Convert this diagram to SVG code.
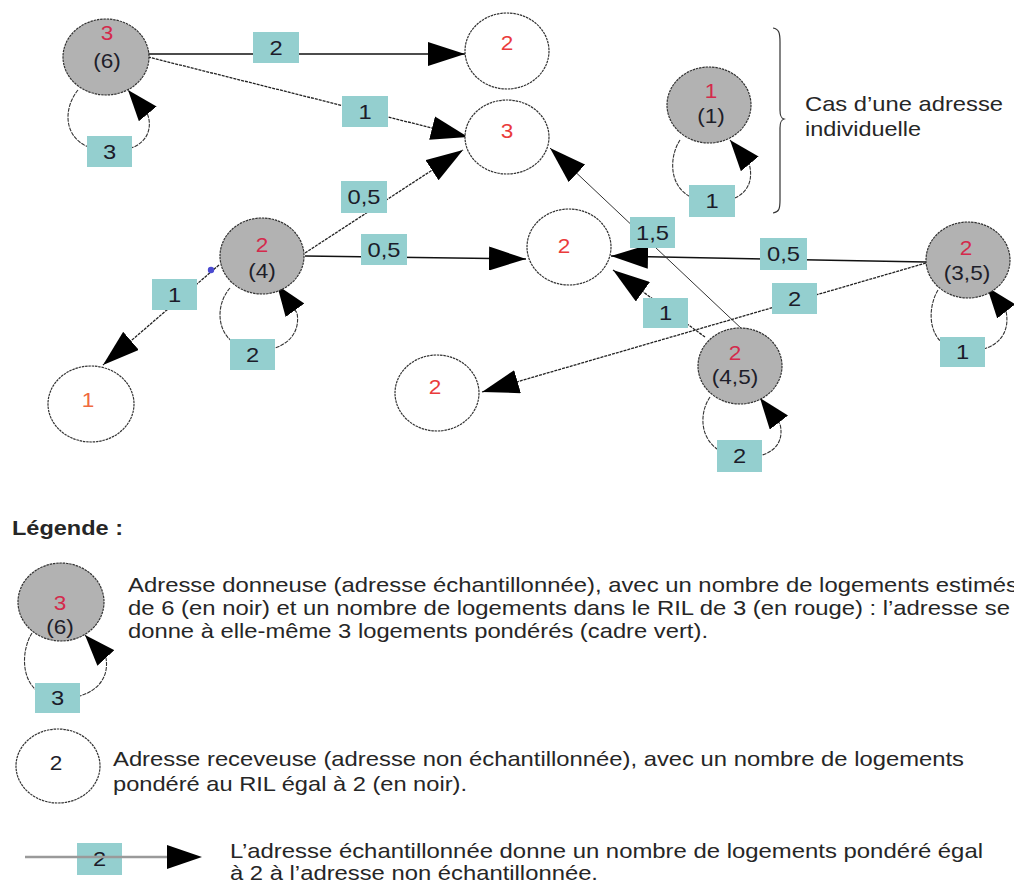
<svg xmlns="http://www.w3.org/2000/svg" width="1014" height="884" viewBox="0 0 1014 884">
<style>
  text { font-family: "Liberation Sans", Arial, sans-serif; }
  .giver { fill: #b2b2b2; stroke: #333; stroke-width: 1.2; stroke-dasharray: 2.5 0.8; }
  .recv { fill: #fff; stroke: #333; stroke-width: 1.2; stroke-dasharray: 2.5 0.8; }
  .solid { fill: none; stroke: #111; stroke-width: 1.5; }
  .dash { fill: none; stroke: #222; stroke-width: 1.3; stroke-dasharray: 3 1; }
  .thin { fill: none; stroke: #333; stroke-width: 1; }
  .loop { fill: none; stroke: #333; stroke-width: 1.1; stroke-dasharray: 4 1; }
  .box { fill: #94cfcf; }
  .lbl { font-size: 21px; fill: #1c1c2a; text-anchor: middle; }
  .nred { font-size: 20px; fill: #d42a4c; text-anchor: middle; }
  .rred { font-size: 20px; fill: #ea3b3b; text-anchor: middle; }
  .nblk { font-size: 20px; fill: #1e1e2a; text-anchor: middle; }
  .txt { font-size: 21px; fill: #262626; }
</style>
<defs>
  <marker id="arr" markerUnits="userSpaceOnUse" viewBox="0 0 37 24" markerWidth="37" markerHeight="24" refX="37" refY="12" orient="auto">
    <path d="M0,0 L37,12 L0,24 z" fill="#000"/>
  </marker>
  <marker id="arrl" markerUnits="userSpaceOnUse" viewBox="0 0 31 23" markerWidth="31" markerHeight="23" refX="31" refY="11.5" orient="auto">
    <path d="M0,0 L31,11.5 L0,23 z" fill="#000"/>
  </marker>
</defs>
<rect width="1014" height="884" fill="#fff"/>

<g id="connectors">
  <line class="solid" x1="148" y1="54" x2="465" y2="54" marker-end="url(#arr)"/>
  <line class="dash" x1="148" y1="57" x2="468" y2="137" marker-end="url(#arr)"/>
  <line class="dash" x1="305" y1="253" x2="463" y2="150" marker-end="url(#arr)"/>
  <line class="solid" x1="305" y1="256" x2="526" y2="259" marker-end="url(#arr)"/>
  <line class="dash" x1="219" y1="265" x2="103" y2="365" marker-end="url(#arr)"/>
  <circle cx="211" cy="270" r="3.2" fill="#4a4ad0"/>
  <line class="solid" x1="926" y1="262" x2="611" y2="256" stroke-width="1.8" marker-end="url(#arr)"/>
  <line class="dash" x1="926" y1="263" x2="482" y2="392" marker-end="url(#arr)"/>
  <line class="thin" x1="743" y1="330" x2="550" y2="148" marker-end="url(#arr)"/>
  <line class="dash" x1="705" y1="337" x2="613" y2="270" marker-end="url(#arr)"/>

  <path class="loop" d="M78,90 C60,112 64,150 109,151 C150,152 153,126 147,113 L128,90" marker-end="url(#arrl)"/>
  <path class="loop" d="M230,288 C214,306 216,340 245,348 C275,356 302,340 297,313 L277,285" marker-end="url(#arrl)"/>
  <path class="loop" d="M680,140 C667,160 669,197 705,201 C740,205 756,188 749,163 L730,140" marker-end="url(#arrl)"/>
  <path class="loop" d="M938,290 C926,310 928,345 958,350 C988,355 1012,340 1006,311 L987,287" marker-end="url(#arrl)"/>
  <path class="loop" d="M710,397 C697,416 700,450 735,456 C765,461 786,448 780,424 L760,398" marker-end="url(#arrl)"/>

  <rect class="box" x="253" y="32" width="46" height="31"/>
  <text class="lbl" transform="translate(276 55) scale(1.13 1)">2</text>
  <rect class="box" x="342" y="96" width="46" height="31"/>
  <text class="lbl" transform="translate(365 119) scale(1.13 1)">1</text>
  <rect class="box" x="341" y="181" width="46" height="32"/>
  <text class="lbl" transform="translate(364 204) scale(1.13 1)">0,5</text>
  <rect class="box" x="361" y="234" width="46" height="31"/>
  <text class="lbl" transform="translate(384 257) scale(1.13 1)">0,5</text>
  <rect class="box" x="152" y="279" width="45" height="31"/>
  <text class="lbl" transform="translate(174.5 302) scale(1.13 1)">1</text>
  <rect class="box" x="760" y="238" width="47" height="32"/>
  <text class="lbl" transform="translate(783.5 261) scale(1.13 1)">0,5</text>
  <rect class="box" x="772" y="283" width="45" height="31"/>
  <text class="lbl" transform="translate(794.5 306) scale(1.13 1)">2</text>
  <rect class="box" x="630" y="217" width="45" height="31"/>
  <text class="lbl" transform="translate(652.5 240) scale(1.13 1)">1,5</text>
  <rect class="box" x="643" y="298" width="45" height="30"/>
  <text class="lbl" transform="translate(665.5 320) scale(1.13 1)">1</text>
  <rect class="box" x="87" y="136" width="45" height="31"/>
  <text class="lbl" transform="translate(109.5 159) scale(1.13 1)">3</text>
  <rect class="box" x="230" y="339" width="45" height="31"/>
  <text class="lbl" transform="translate(252.5 362) scale(1.13 1)">2</text>
  <rect class="box" x="689" y="185" width="46" height="32"/>
  <text class="lbl" transform="translate(712 208) scale(1.13 1)">1</text>
  <rect class="box" x="940" y="337" width="45" height="30"/>
  <text class="lbl" transform="translate(962.5 359) scale(1.13 1)">1</text>
  <rect class="box" x="717" y="440" width="45" height="32"/>
  <text class="lbl" transform="translate(739.5 463) scale(1.13 1)">2</text>
</g>

<g id="node-a">
  <ellipse class="giver" cx="106" cy="57" rx="43" ry="38"/>
  <text class="nred" transform="translate(107 40) scale(1.13 1)">3</text>
  <text class="nblk" transform="translate(107 68) scale(1.13 1)">(6)</text>
</g>
<g id="node-b">
  <ellipse class="recv" cx="507" cy="51" rx="42" ry="38"/>
  <text class="rred" transform="translate(507 50) scale(1.13 1)">2</text>
</g>
<g id="node-c">
  <ellipse class="recv" cx="507" cy="137" rx="42" ry="37"/>
  <text class="rred" transform="translate(507 138) scale(1.13 1)">3</text>
</g>
<g id="node-d">
  <ellipse class="giver" cx="262" cy="256" rx="42" ry="38"/>
  <text class="nred" transform="translate(262 252) scale(1.13 1)">2</text>
  <text class="nblk" transform="translate(262 278) scale(1.13 1)">(4)</text>
</g>
<g id="node-e">
  <ellipse class="recv" cx="569" cy="247" rx="42" ry="38"/>
  <text class="rred" transform="translate(564 253) scale(1.13 1)">2</text>
</g>
<g id="node-f">
  <ellipse class="recv" cx="91" cy="404" rx="43" ry="38"/>
  <text class="rred" style="fill:#f06a40" transform="translate(88 407) scale(1.13 1)">1</text>
</g>
<g id="node-g">
  <ellipse class="giver" cx="709" cy="105" rx="42" ry="38"/>
  <text class="nred" transform="translate(711 98) scale(1.13 1)">1</text>
  <text class="nblk" transform="translate(711 123) scale(1.13 1)">(1)</text>
</g>
<g id="node-h">
  <ellipse class="giver" cx="968" cy="260" rx="42" ry="38"/>
  <text class="nred" transform="translate(966 255) scale(1.13 1)">2</text>
  <text class="nblk" transform="translate(967 280) scale(1.13 1)">(3,5)</text>
</g>
<g id="node-i">
  <ellipse class="recv" cx="437" cy="393" rx="42" ry="38"/>
  <text class="rred" transform="translate(435 394) scale(1.13 1)">2</text>
</g>
<g id="node-j">
  <ellipse class="giver" cx="740" cy="366" rx="42" ry="38"/>
  <text class="nred" transform="translate(735 360) scale(1.13 1)">2</text>
  <text class="nblk" transform="translate(735 384) scale(1.13 1)">(4,5)</text>
</g>

<g id="note">
  <path d="M773,28 C779,29 780,33 780,42 L780,110 C780,116 781,118 784,119 C781,120 780,122 780,128 L780,200 C780,209 779,212 773,213" fill="none" stroke="#333" stroke-width="1.2"/>
  <text class="txt" x="805" y="111" textLength="198" lengthAdjust="spacingAndGlyphs">Cas d’une adresse</text>
  <text class="txt" x="805" y="136" textLength="116" lengthAdjust="spacingAndGlyphs">individuelle</text>
</g>

<g id="legend">
  <text class="txt" x="12" y="535" font-weight="bold" textLength="111" lengthAdjust="spacingAndGlyphs">Légende :</text>

  <g id="legend-giver">
    <path class="loop" d="M32,633 C20,652 20,690 50,697 C80,703 111,688 106,658 L85,635" marker-end="url(#arrl)"/>
    <ellipse class="giver" cx="61" cy="602" rx="43" ry="39"/>
    <rect class="box" x="35" y="683" width="45" height="30"/>
    <text class="lbl" transform="translate(57.5 705) scale(1.13 1)">3</text>
    <text class="nred" transform="translate(60 610) scale(1.13 1)">3</text>
    <text class="nblk" transform="translate(60 634) scale(1.13 1)">(6)</text>
    <text class="txt" x="128" y="592" textLength="890" lengthAdjust="spacingAndGlyphs">Adresse donneuse (adresse échantillonnée), avec un nombre de logements estimés</text>
    <text class="txt" x="128" y="615" textLength="882" lengthAdjust="spacingAndGlyphs">de 6 (en noir) et un nombre de logements dans le RIL de 3 (en rouge) : l’adresse se</text>
    <text class="txt" x="128" y="638" textLength="580" lengthAdjust="spacingAndGlyphs">donne à elle-même 3 logements pondérés (cadre vert).</text>
  </g>

  <g id="legend-receiver">
    <ellipse class="recv" cx="58" cy="766" rx="42" ry="37"/>
    <text class="nblk" transform="translate(56 770) scale(1.13 1)">2</text>
    <text class="txt" x="113" y="766" textLength="851" lengthAdjust="spacingAndGlyphs">Adresse receveuse (adresse non échantillonnée), avec un nombre de logements</text>
    <text class="txt" x="113" y="791" textLength="354" lengthAdjust="spacingAndGlyphs">pondéré au RIL égal à 2 (en noir).</text>
  </g>

  <g id="legend-arrow">
    <rect class="box" x="77" y="843" width="45" height="32"/>
    <text class="lbl" transform="translate(99.5 866) scale(1.13 1)">2</text>
    <line x1="25" y1="857" x2="167" y2="857" stroke="#9a9a9a" stroke-width="2.5"/>
    <path d="M167,845 L202,857 L167,869 z" fill="#000"/>
    <text class="txt" x="230" y="858" textLength="753" lengthAdjust="spacingAndGlyphs">L’adresse échantillonnée donne un nombre de logements pondéré égal</text>
    <text class="txt" x="230" y="880" textLength="368" lengthAdjust="spacingAndGlyphs">à 2 à l’adresse non échantillonnée.</text>
  </g>
</g>
</svg>
